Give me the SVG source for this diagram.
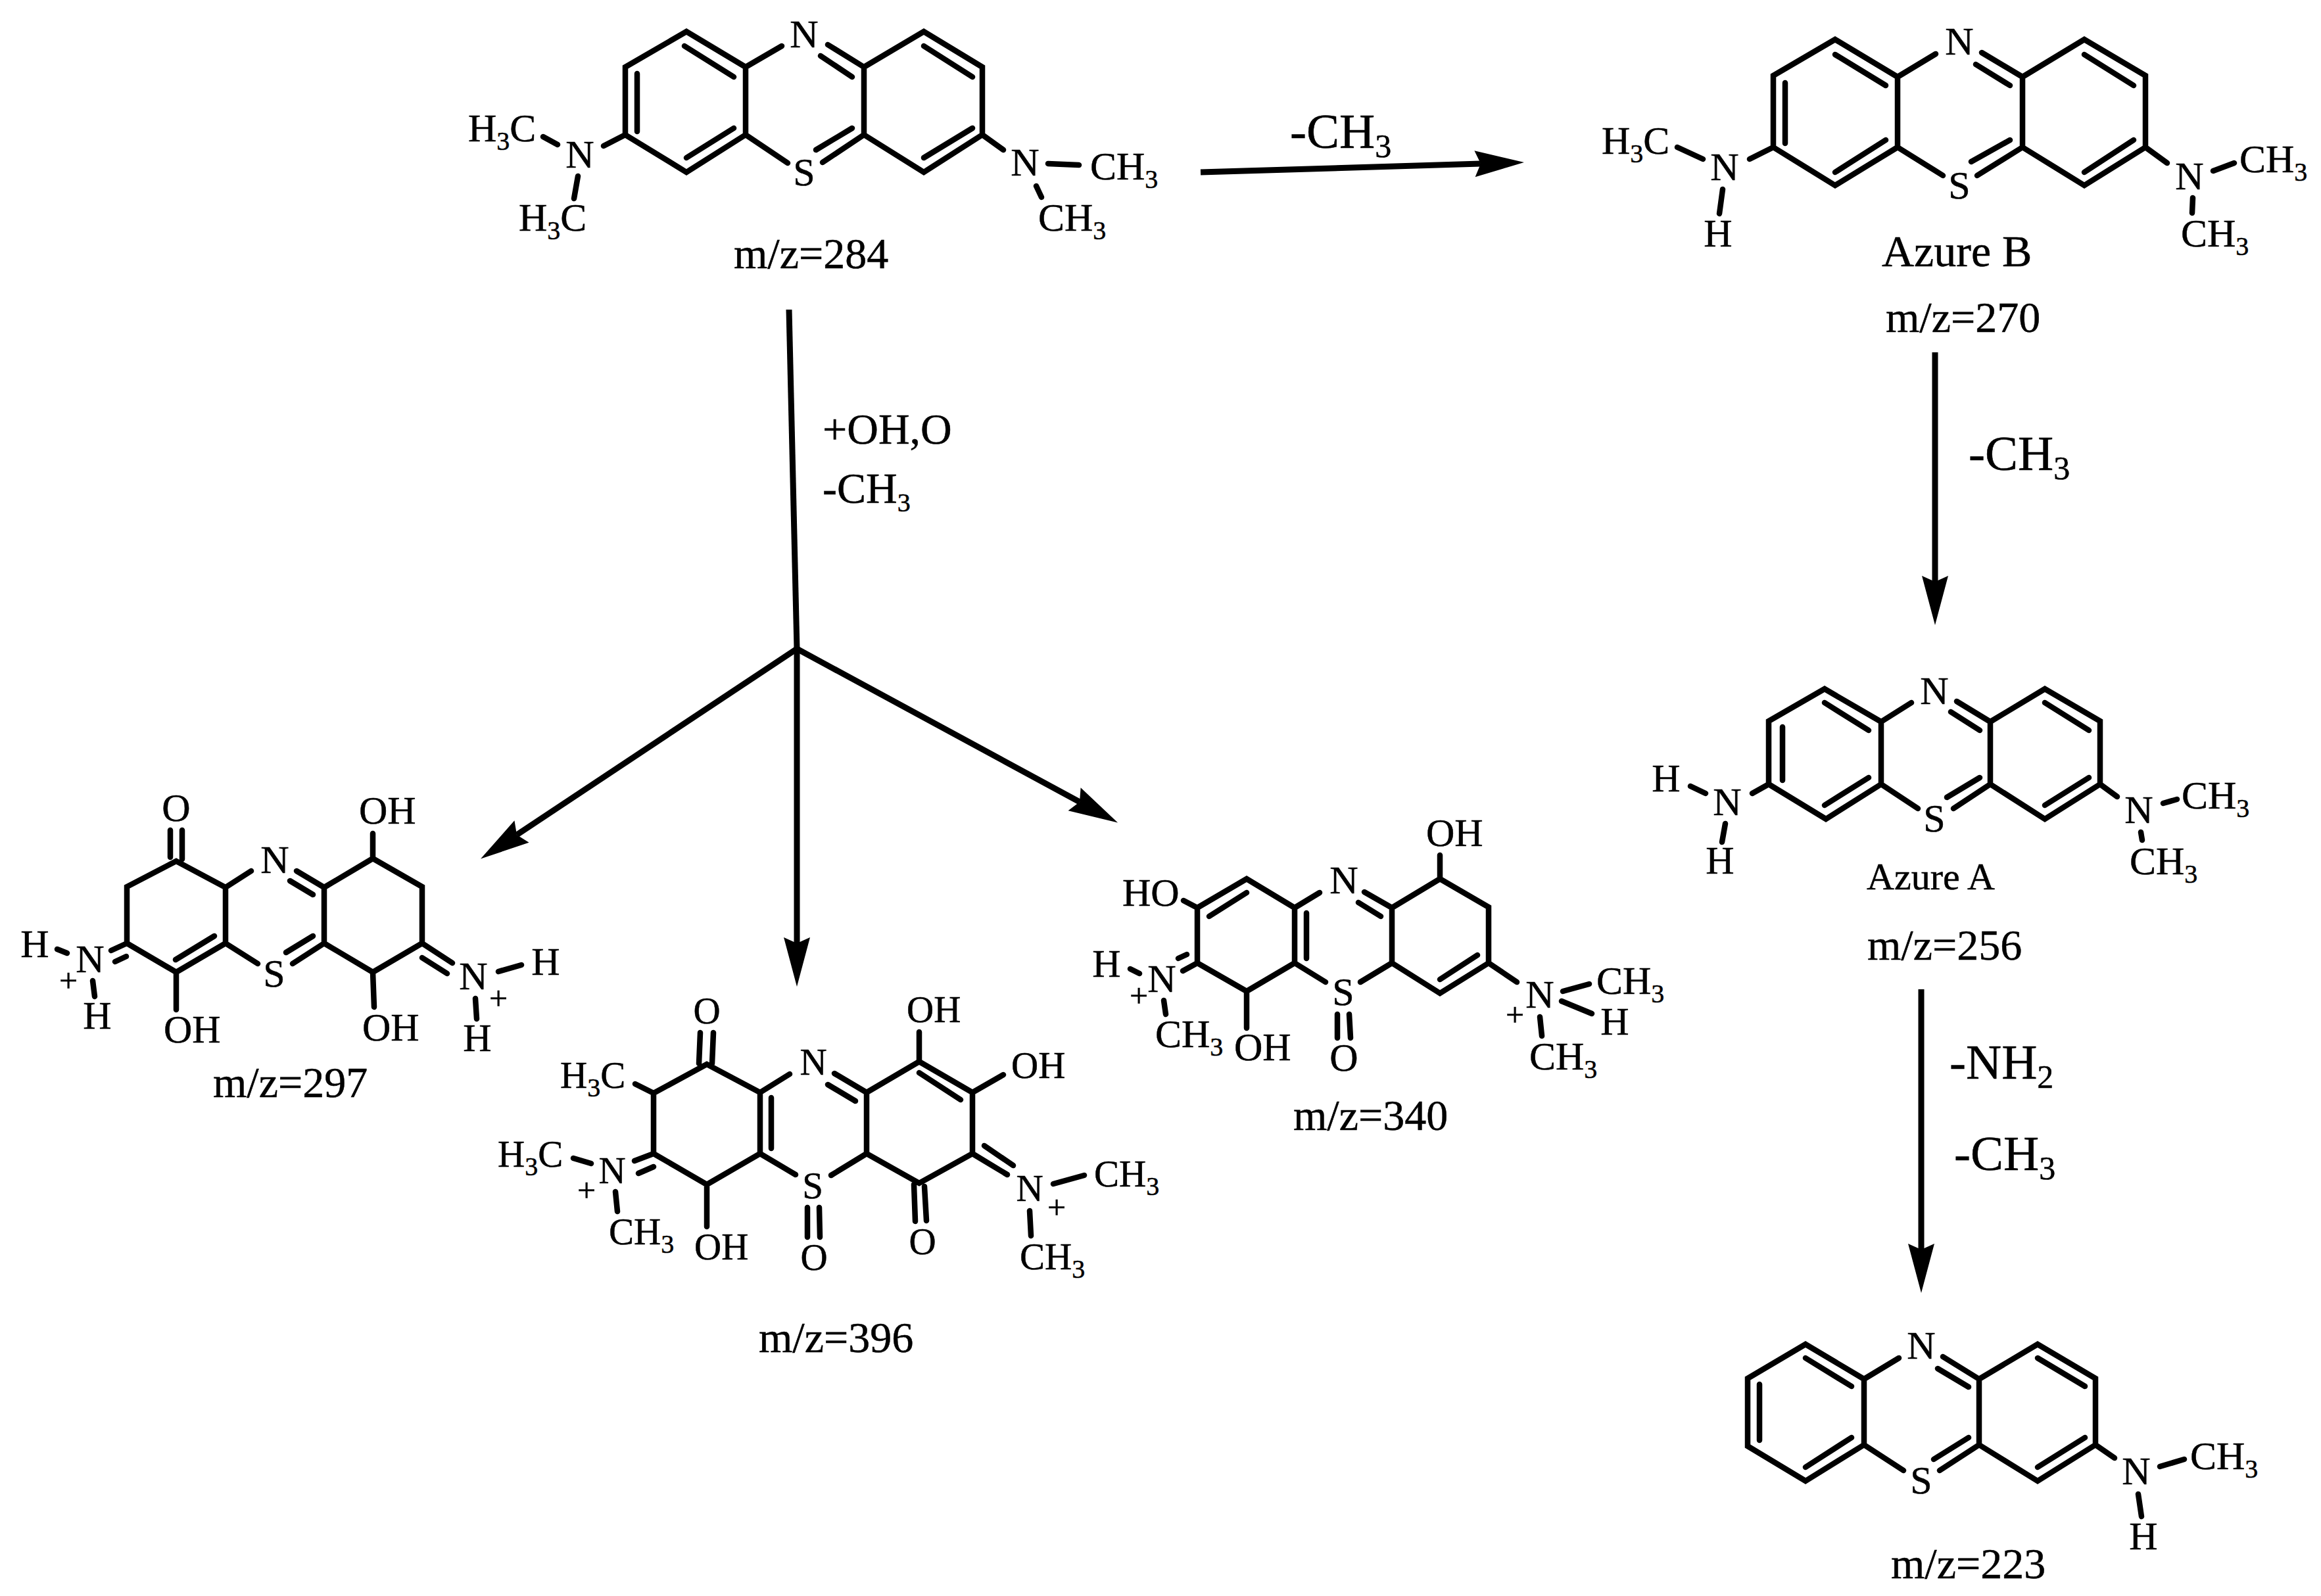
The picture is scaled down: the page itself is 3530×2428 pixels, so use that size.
<svg xmlns="http://www.w3.org/2000/svg" width="3530" height="2428" viewBox="0 0 3530 2428">
<style>
text{font-family:"Liberation Serif","Times New Roman",serif;fill:#000;stroke:#000;stroke-width:.5}
.t{font-size:60px}
.n{font-size:57px}
.c{text-anchor:middle}
.l{font-size:66px}
.az{font-size:68px}
.azs{font-size:58px}
.r{font-size:75px}
.p{font-size:50px;text-anchor:middle}
.s{font-size:40px}
.rs{font-size:50px}
.b{fill:none;stroke:#000;stroke-width:8.5;stroke-linecap:round;stroke-linejoin:miter}
.a{fill:none;stroke:#000;stroke-width:9}
</style>
<defs>
<marker id="h" markerUnits="userSpaceOnUse" markerWidth="76" markerHeight="44" viewBox="0 0 76 44" refX="9" refY="22" orient="auto" overflow="visible">
<path d="M75 22L0 2L9 22L0 42Z" fill="#000"/>
</marker>
</defs>
<rect width="3530" height="2428" fill="#fff"/>
<g id="connectors">
<path class="a" d="M1826 262L2252 249" marker-end="url(#h)"/>
<path class="a" d="M1200 471L1212 987"/>
<path class="a" d="M1212 987L786 1270" marker-end="url(#h)"/>
<path class="a" d="M1212 987L1212 1435" marker-end="url(#h)"/>
<path class="a" d="M1212 987L1642 1220" marker-end="url(#h)"/>
<path class="a" d="M2943 536L2943 885" marker-end="url(#h)"/>
<path class="a" d="M2922 1505L2922 1901" marker-end="url(#h)"/>
<text class="r" x="1962" y="225">-CH<tspan class="rs" dy="14">3</tspan></text>
<text class="l" x="1251" y="675">+OH,O</text>
<text class="l" x="1251" y="765">-CH<tspan class="s" dy="13">3</tspan></text>
<text class="r" x="2994" y="715">-CH<tspan class="rs" dy="14">3</tspan></text>
<text class="r" x="2965" y="1641">-NH<tspan class="rs" dy="14">2</tspan></text>
<text class="r" x="2972" y="1780">-CH<tspan class="rs" dy="14">3</tspan></text>
</g>
<g id="mol-284">
<path class="b" d="M1044 48L951 102L951 205L1044 262L1134 205L1134 102ZM1314 102L1405 48L1494 102L1494 205L1405 262L1314 205ZM969 112L969 200M1041 70L1116 117M1116 195L1044 240M1134 102L1189 70M1314 102L1259 68M1248 85L1296 117M1134 205L1198 248M1314 205L1251 247M1296 195L1241 228M1405 70L1479 117M1479 195L1405 240M951 205L918 222M826 208L848 220M879 268L873 302M1494 205L1526 228M1594 249L1641 251M1576 283L1584 300"/>
<text class="t c" x="1223" y="72">N</text>
<text class="t c" x="1223" y="282">S</text>
<text class="t c" x="882" y="255">N</text>
<text class="t" x="712" y="215">H<tspan class="s" dy="13">3</tspan><tspan dy="-13">C</tspan></text>
<text class="t" x="789" y="351">H<tspan class="s" dy="13">3</tspan><tspan dy="-13">C</tspan></text>
<text class="t c" x="1559" y="267">N</text>
<text class="t" x="1658" y="273">CH<tspan class="s" dy="13">3</tspan></text>
<text class="t" x="1579" y="351">CH<tspan class="s" dy="13">3</tspan></text>
<text class="l" x="1116" y="408">m/z=284</text>
</g>
<g id="azure-b">
<path class="b" d="M2791 60L2697 115L2697 224L2791 282L2886 224L2886 117ZM3076 117L3170 60L3263 115L3263 224L3170 282L3076 224ZM2715 126L2715 218M2791 83L2868 130M2868 213L2791 262M2886 117L2944 82M3076 117L3014 80M3005 98L3057 130M2886 224L2955 267M3076 224L3007 267M3057 213L2998 246M3170 83L3245 130M3245 213L3170 262M2697 224L2661 242M2551 224L2590 242M2620 288L2615 325M3263 224L3296 248M3366 260L3398 248M3335 301L3334 324"/>
<text class="t c" x="2980" y="83">N</text>
<text class="t c" x="2980" y="302">S</text>
<text class="t c" x="2623" y="274">N</text>
<text class="t" x="2436" y="234">H<tspan class="s" dy="13">3</tspan><tspan dy="-13">C</tspan></text>
<text class="t c" x="2613" y="375">H</text>
<text class="t c" x="3330" y="288">N</text>
<text class="t" x="3406" y="262">CH<tspan class="s" dy="13">3</tspan></text>
<text class="t" x="3317" y="375">CH<tspan class="s" dy="13">3</tspan></text>
<text class="az" x="2862" y="405">Azure B</text>
<text class="l" x="2868" y="505">m/z=270</text>
</g>
<g id="azure-a">
<path class="b" d="M2775 1048L2690 1097L2690 1193L2777 1246L2861 1193L2861 1098ZM3027 1098L3110 1048L3194 1097L3194 1193L3110 1246L3027 1193ZM2711 1106L2711 1187M2775 1069L2842 1111M2842 1183L2775 1225M2861 1098L2907 1069M3027 1098L2976 1067M2967 1083L3011 1111M2861 1193L2917 1230M3027 1193L2971 1230M3011 1183L2961 1213M3110 1069L3177 1111M3177 1183L3110 1225M2690 1193L2665 1207M2571 1196L2594 1207M2624 1253L2619 1281M3194 1193L3220 1212M3290 1222L3311 1216M3256 1266L3258 1278"/>
<text class="t c" x="2942" y="1071">N</text>
<text class="t c" x="2942" y="1265">S</text>
<text class="t c" x="2627" y="1240">N</text>
<text class="t c" x="2534" y="1204">H</text>
<text class="t c" x="2616" y="1329">H</text>
<text class="t c" x="3253" y="1252">N</text>
<text class="t" x="3318" y="1230">CH<tspan class="s" dy="13">3</tspan></text>
<text class="t" x="3239" y="1330">CH<tspan class="s" dy="13">3</tspan></text>
<text class="azs" x="2839" y="1353">Azure A</text>
<text class="l" x="2840" y="1460">m/z=256</text>
</g>
<g id="mol-223">
<path class="b" d="M2746 2045L2658 2097L2658 2200L2746 2253L2835 2198L2835 2098ZM3010 2098L3099 2045L3187 2097L3187 2198L3099 2253L3010 2198ZM2676 2106L2676 2191M2746 2066L2816 2109M2816 2187L2746 2232M2835 2098L2888 2066M3010 2098L2955 2064M2947 2082L2994 2110M2835 2198L2895 2237M3010 2198L2950 2237M2994 2187L2941 2220M3099 2066L3171 2109M3171 2187L3099 2232M3187 2198L3216 2218M3285 2231L3322 2220M3252 2273L3257 2307"/>
<text class="t c" x="2922" y="2067">N</text>
<text class="t c" x="2922" y="2272">S</text>
<text class="t c" x="3249" y="2258">N</text>
<text class="t" x="3331" y="2235">CH<tspan class="s" dy="13">3</tspan></text>
<text class="t c" x="3260" y="2357">H</text>
<text class="l" x="2876" y="2401">m/z=223</text>
</g>
<g id="mol-297">
<path class="b" d="M268 1310L193 1349L193 1435L268 1479L343 1435L343 1350ZM493 1350L567 1306L642 1349L642 1435L567 1479L493 1435ZM259 1263L259 1304M277 1263L277 1307M567 1268L567 1304M343 1350L382 1325M493 1350L451 1325M441 1340L476 1361M343 1435L392 1466M493 1435L445 1466M476 1424L435 1449M326 1424L267 1460M268 1479L268 1536M567 1479L569 1532M193 1435L169 1446M192 1455L175 1463M87 1444L102 1450M141 1492L144 1516M642 1435L688 1465M642 1457L680 1481M758 1478L793 1468M723 1519L725 1550"/>
<text class="t c" x="268" y="1249">O</text>
<text class="t" x="546" y="1253">OH</text>
<text class="t c" x="418" y="1328">N</text>
<text class="t c" x="417" y="1501">S</text>
<text class="t" x="249" y="1586">OH</text>
<text class="t" x="551" y="1583">OH</text>
<text class="t c" x="137" y="1479">N</text>
<text class="t c" x="53" y="1456">H</text>
<text class="p" x="104" y="1509">+</text>
<text class="t c" x="148" y="1565">H</text>
<text class="t c" x="720" y="1505">N</text>
<text class="t c" x="830" y="1483">H</text>
<text class="p" x="758" y="1536">+</text>
<text class="t c" x="726" y="1599">H</text>
<text class="l" x="324" y="1669">m/z=297</text>
</g>
<g id="mol-396">
<path class="b" d="M1075 1619L994 1663L994 1755L1075 1802L1156 1755L1156 1662ZM1318 1662L1398 1615L1479 1662L1479 1755L1398 1800L1318 1755ZM1173 1670L1173 1747M1398 1632L1461 1673M1156 1662L1201 1634M1318 1662L1269 1633M1259 1650L1301 1675M1156 1755L1210 1787M1318 1755L1264 1788M1065 1571L1063 1618M1085 1571L1083 1618M966 1649L994 1663M1398 1570L1398 1614M1479 1662L1526 1635M994 1755L965 1766M994 1775L971 1785M872 1762L899 1770M936 1813L939 1843M1075 1802L1075 1866M1228 1837L1228 1882M1246 1837L1247 1882M1390 1802L1392 1858M1406 1805L1409 1857M1479 1755L1532 1787M1497 1743L1541 1773M1602 1801L1649 1788M1566 1842L1568 1880"/>
<text class="n c" x="1075" y="1557">O</text>
<text class="n" x="852" y="1655">H<tspan class="s" dy="13">3</tspan><tspan dy="-13">C</tspan></text>
<text class="n" x="1379" y="1555">OH</text>
<text class="n" x="1538" y="1640">OH</text>
<text class="n c" x="1237" y="1635">N</text>
<text class="n c" x="1236" y="1823">S</text>
<text class="n c" x="931" y="1800">N</text>
<text class="n" x="757" y="1775">H<tspan class="s" dy="13">3</tspan><tspan dy="-13">C</tspan></text>
<text class="p" x="892" y="1828">+</text>
<text class="n" x="926" y="1893">CH<tspan class="s" dy="13">3</tspan></text>
<text class="n" x="1056" y="1916">OH</text>
<text class="n c" x="1238" y="1932">O</text>
<text class="n c" x="1403" y="1908">O</text>
<text class="n c" x="1566" y="1827">N</text>
<text class="n" x="1664" y="1805">CH<tspan class="s" dy="13">3</tspan></text>
<text class="p" x="1607" y="1854">+</text>
<text class="n" x="1551" y="1931">CH<tspan class="s" dy="13">3</tspan></text>
<text class="l" x="1154" y="2057">m/z=396</text>
</g>
<g id="mol-340">
<path class="b" d="M1821 1381L1896 1337L1969 1381L1969 1465L1896 1508L1821 1465ZM2117 1381L2190 1337L2264 1380L2264 1465L2190 1511L2117 1465ZM1839 1394L1896 1358M1987 1389L1987 1458M1969 1381L2007 1358M2117 1381L2075 1357M2066 1373L2100 1394M1969 1465L2016 1494M2117 1465L2069 1494M2247 1453L2190 1490M2190 1301L2190 1335M1800 1370L1821 1381M1821 1465L1799 1477M1805 1452L1792 1458M1719 1474L1733 1481M1770 1522L1773 1543M1896 1508L1896 1564M2034 1543L2034 1579M2052 1543L2054 1579M2264 1465L2307 1494M2377 1508L2417 1497M2375 1523L2421 1542M2342 1547L2345 1576"/>
<text class="t" x="2169" y="1287">OH</text>
<text class="t" x="1707" y="1378">HO</text>
<text class="t c" x="2044" y="1359">N</text>
<text class="t c" x="2043" y="1529">S</text>
<text class="t c" x="1767" y="1509">N</text>
<text class="t c" x="1683" y="1486">H</text>
<text class="p" x="1732" y="1532">+</text>
<text class="t" x="1757" y="1593">CH<tspan class="s" dy="13">3</tspan></text>
<text class="t" x="1877" y="1613">OH</text>
<text class="t c" x="2044" y="1629">O</text>
<text class="t c" x="2342" y="1533">N</text>
<text class="t" x="2428" y="1512">CH<tspan class="s" dy="13">3</tspan></text>
<text class="t c" x="2456" y="1574">H</text>
<text class="p" x="2304" y="1561">+</text>
<text class="t" x="2326" y="1627">CH<tspan class="s" dy="13">3</tspan></text>
<text class="l" x="1967" y="1719">m/z=340</text>
</g>
</svg>
